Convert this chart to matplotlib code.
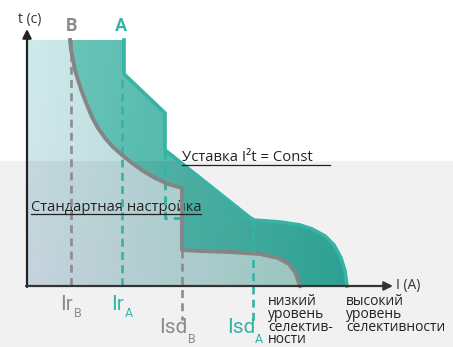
import numpy as np
import matplotlib
matplotlib.use('Agg')
import matplotlib.pyplot as plt
from matplotlib.patches import Polygon, Rectangle

plt.rcParams['font.family'] = ['Open Sans', 'DejaVu Sans']
label_font = ['Roboto', 'DejaVu Sans']

# chart drawn in a 453 x 347 pixel-like coordinate space (y downwards)
W, H = 453, 347

# curve A (outer, teal)
a_x = [124, 124, 165, 165, 253, 280, 300, 312, 325, 334, 341, 345, 347]
a_y = [40, 74, 113, 150, 220, 222, 225, 229, 236, 245, 258, 271, 286]

# curve B (inner, gray)
b_x = [70, 71, 73, 75, 78, 82, 87, 92, 98, 105, 113, 122, 132, 143, 155, 168, 182,
       182, 200, 230, 260, 278, 289, 295, 298, 300]
b_y = [40, 50, 60, 70, 80, 92, 105, 117, 128, 138, 147, 155, 163, 171, 178, 184, 188,
       250, 251, 252, 254, 258, 264, 272, 280, 286]

# standard setting of A (dashed)
std_x = [165, 165, 253]
std_y = [150, 218, 218]

axis_x0, axis_y0 = 27, 286
top_y = 40

gray = '#8c8c8c'
teal = '#35b3a4'

# vertical markers: (x, y_top, y_bottom, colour)
markers = [
    (71, 40, 286, gray),
    (122, 80, 286, teal),
    (182, 250, 320, gray),
    (253, 220, 325, teal),
]

# marker labels: (x, baseline, main, sub, sub_dx, sub_dy, colour)
labels = [
    (60, 310, 'Ir', 'B', 14, 7, gray),
    (111, 310, 'Ir', 'A', 14, 7, teal),
    (159, 333, 'Isd', 'B', 29, 10, gray),
    (227, 333, 'Isd', 'A', 28, 10, teal),
]

low_sel = ['низкий', 'уровень', 'селектив-', 'ности']
high_sel = ['высокий', 'уровень', 'селективности']


def gradient(corners, nx=200, ny=160):
    tl, tr, bl, br = [np.array(matplotlib.colors.to_rgb(c)) for c in corners]
    u = np.linspace(0, 1, nx)[None, :, None]
    v = np.linspace(0, 1, ny)[:, None, None]
    top = tl * (1 - u) + tr * u
    bot = bl * (1 - u) + br * u
    return top * (1 - v) + bot * v


fig = plt.figure(figsize=(4.53, 3.47), dpi=100)
ax = fig.add_axes([0, 0, 1, 1])
ax.set_xlim(0, W)
ax.set_ylim(H, 0)
ax.axis('off')

# outer fill (A)
outer = Polygon(list(zip([axis_x0] + a_x + [axis_x0], [top_y] + a_y + [axis_y0])),
                closed=True, facecolor='none', edgecolor='none')
ax.add_patch(outer)
im = ax.imshow(gradient(['#72c7bc', '#35ae9f', '#6cc3b8', '#30aa9c']),
               extent=(axis_x0, 350, axis_y0, top_y), aspect='auto', zorder=1)
im.set_clip_path(outer)

# inner fill (B)
inner = Polygon(list(zip([axis_x0] + b_x + [axis_x0], [top_y] + b_y + [axis_y0])),
                closed=True, facecolor='none', edgecolor='none')
ax.add_patch(inner)
im2 = ax.imshow(gradient(['#cfeaec', '#9dd4cc', '#d2e0ea', '#a4d2cd']),
                extent=(axis_x0, 300, axis_y0, top_y), aspect='auto', zorder=2)
im2.set_clip_path(inner)

# lower gray band
ax.add_patch(Rectangle((0, 161), W, H - 161, facecolor='black', alpha=0.055,
                       edgecolor='none', zorder=3))

# dashed markers
for x, y0, y1, c in markers:
    ax.plot([x, x], [y0, y1], color=c, lw=1.9, ls=(0, (3, 2)), zorder=4)
ax.plot(std_x, std_y, color=teal, lw=2.2, ls=(0, (3, 2)), zorder=4)

# curves
ax.plot(a_x, a_y, color=teal, lw=2.6, solid_joinstyle='miter', zorder=5)
ax.plot(b_x, b_y, color='#858585', lw=2.8, zorder=5)

# axes with arrows
ax.annotate('', xy=(axis_x0, 29), xytext=(axis_x0, axis_y0 + 1),
            arrowprops=dict(arrowstyle='-|>', color='#222222', lw=1.6,
                            mutation_scale=13, shrinkA=0, shrinkB=0), zorder=6)
ax.annotate('', xy=(393, axis_y0), xytext=(axis_x0 - 1, axis_y0),
            arrowprops=dict(arrowstyle='-|>', color='#333333', lw=1.6,
                            mutation_scale=13, shrinkA=0, shrinkB=0), zorder=6)

ax.text(18, 19, 't (c)', fontsize=10, color='#333333', va='center', ha='left')
ax.text(396, 285, 'I (A)', fontsize=10, color='#333333', va='center', ha='left')
ax.text(72, 26, 'B', fontsize=13, fontweight='bold', color=gray, ha='center',
        va='center', family=label_font)
ax.text(121, 26, 'A', fontsize=13, fontweight='bold', color=teal, ha='center',
        va='center', family=label_font)

# setting captions with underline
ax.text(182, 161, 'Уставка I²t = Const', fontsize=10.7, color='#222222',
        ha='left', va='baseline')
ax.plot([182, 330], [165, 165], color='#222222', lw=0.9, zorder=6)
ax.text(31, 211, 'Стандартная настройка', fontsize=10.6, color='#222222',
        ha='left', va='baseline')
ax.plot([31, 201], [214, 214], color='#222222', lw=0.9, zorder=6)

# current labels
for x, base, main, sub, dx, dy, c in labels:
    ax.text(x, base, main, fontsize=15, color=c, ha='left', va='baseline',
            family=label_font)
    ax.text(x + dx, base + dy, sub, fontsize=9, color=c, ha='left',
            va='baseline', family=label_font)

# selectivity notes, one line at a time
for i, line in enumerate(low_sel):
    ax.text(268, 305 + 12.8 * i, line, fontsize=10, color='#222222',
            ha='left', va='baseline')
for i, line in enumerate(high_sel):
    ax.text(346, 305 + 12.8 * i, line, fontsize=10, color='#222222',
            ha='left', va='baseline')

fig.savefig('out.png', dpi=100)
